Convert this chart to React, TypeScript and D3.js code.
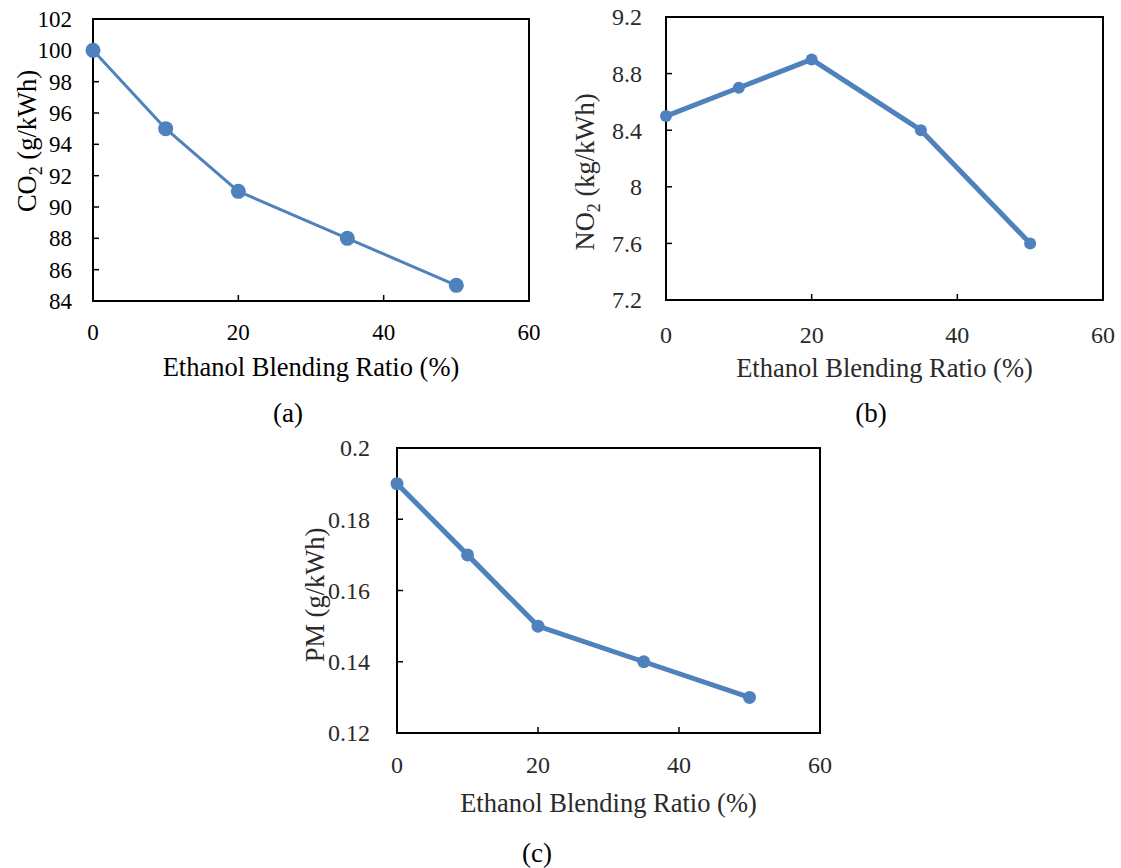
import React from 'react';
import * as d3 from 'd3';

// blending ratios (%) shared by all three panels
const blendRatio = [0, 10, 20, 35, 50];
const xTicks = [0, 20, 40, 60];

const co2Values = [100, 95, 91, 88, 85];
const co2Ticks = [84, 86, 88, 90, 92, 94, 96, 98, 100, 102];

const no2Values = [8.5, 8.7, 8.9, 8.4, 7.6];
const no2Ticks = [7.2, 7.6, 8, 8.4, 8.8, 9.2];

const pmValues = [0.19, 0.17, 0.15, 0.14, 0.13];
const pmTicks = [0.12, 0.14, 0.16, 0.18, 0.2];

const FONT = '"Liberation Serif", "Times New Roman", serif';

type PanelProps = {
  left: number;
  top: number;
  width: number;
  height: number;
  values: number[];
  yTicks: number[];
  yFmt: (v: number) => string;
  yLabel: [string, string, string];
  yLabelX: number;
  yLabelY: number;
  caption: string;
  captionX: number;
  captionY: number;
  lineW: number;
  dotR: number;
  textColor: string;
  tickGap: number;
  tickFont: number;
  xLabelOff: number;
  titleOff: number;
};

const Panel = (p: PanelProps) => {
  const x = d3.scaleLinear().domain([0, 60]).range([p.left, p.left + p.width]);
  const y = d3
    .scaleLinear()
    .domain([p.yTicks[0], p.yTicks[p.yTicks.length - 1]])
    .range([p.top + p.height, p.top]);
  const line = d3
    .line<number>()
    .x((d, i) => x(blendRatio[i]))
    .y((d) => y(d));
  const bottom = p.top + p.height;
  const color = '#4f81bd';

  return (
    <g fontFamily={FONT} fill={p.textColor}>
      {/* ticks point inward */}
      {p.yTicks.slice(1, -1).map((t) => (
        <line key={'yt' + t} x1={p.left} x2={p.left + 6} y1={y(t)} y2={y(t)} stroke="#000" strokeWidth={1.5} />
      ))}
      {xTicks.slice(1, -1).map((t) => (
        <line key={'xt' + t} x1={x(t)} x2={x(t)} y1={bottom} y2={bottom - 6} stroke="#000" strokeWidth={1.5} />
      ))}
      <rect x={p.left} y={p.top} width={p.width} height={p.height} fill="none" stroke="#000" strokeWidth={2} />
      {p.yTicks.map((t) => (
        <text key={'yl' + t} x={p.left - p.tickGap} y={y(t)} dy="0.35em" textAnchor="end" fontSize={p.tickFont}>
          {p.yFmt(t)}
        </text>
      ))}
      {xTicks.map((t) => (
        <text key={'xl' + t} x={x(t)} y={bottom + p.xLabelOff} dy="0.35em" textAnchor="middle" fontSize={p.tickFont}>
          {t}
        </text>
      ))}
      <text x={p.left + p.width / 2} y={bottom + p.titleOff} dy="0.35em" textAnchor="middle" fontSize={26.5}>
        Ethanol Blending Ratio (%)
      </text>
      <text
        transform={`translate(${p.yLabelX},${p.yLabelY}) rotate(-90)`}
        textAnchor="middle"
        dy="0.35em"
        fontSize={26.5}
      >
        <tspan>{p.yLabel[0]}</tspan>
        <tspan fontSize={18} dy="6">{p.yLabel[1]}</tspan>
        <tspan dy="-6">{p.yLabel[2]}</tspan>
      </text>
      <text x={p.captionX} y={p.captionY} dy="0.35em" textAnchor="middle" fontSize={27} fill="#000">
        {p.caption}
      </text>
      <path d={line(p.values) || ''} fill="none" stroke={color} strokeWidth={p.lineW} strokeLinejoin="round" />
      {p.values.map((v, i) => (
        <circle key={'pt' + i} cx={x(blendRatio[i])} cy={y(v)} r={p.dotR} fill={color} />
      ))}
    </g>
  );
};

export default function App() {
  return (
    <svg
      width={1121}
      height={868}
      style={{ position: 'absolute', left: 0, top: 0, display: 'block', background: '#fff' }}
    >
      <rect width={1121} height={868} fill="#fff" />
      <Panel
        left={93}
        top={19}
        width={436}
        height={282}
        values={co2Values}
        yTicks={co2Ticks}
        yFmt={(v) => String(v)}
        yLabel={['CO', '2', ' (g/kWh)']}
        yLabelX={27}
        yLabelY={141}
        caption="(a)"
        captionX={288}
        captionY={413}
        lineW={3}
        dotR={7.5}
        textColor="#000"
        tickGap={21}
        tickFont={23}
        xLabelOff={31}
        titleOff={66}
      />
      <Panel
        left={666}
        top={17}
        width={437}
        height={283}
        values={no2Values}
        yTicks={no2Ticks}
        yFmt={(v) => d3.format('.1~f')(v)}
        yLabel={['NO', '2', ' (kg/kWh)']}
        yLabelX={585}
        yLabelY={172}
        caption="(b)"
        captionX={871}
        captionY={413}
        lineW={5}
        dotR={6}
        textColor="#2a2a2a"
        tickGap={24}
        tickFont={24}
        xLabelOff={35}
        titleOff={68}
      />
      <Panel
        left={397}
        top={448}
        width={423}
        height={285}
        values={pmValues}
        yTicks={pmTicks}
        yFmt={(v) => d3.format('.2~f')(v)}
        yLabel={['PM (g/kWh)', '', '']}
        yLabelX={315}
        yLabelY={595}
        caption="(c)"
        captionX={537}
        captionY={853}
        lineW={5}
        dotR={6.5}
        textColor="#2a2a2a"
        tickGap={27}
        tickFont={24}
        xLabelOff={32}
        titleOff={70}
      />
    </svg>
  );
}
